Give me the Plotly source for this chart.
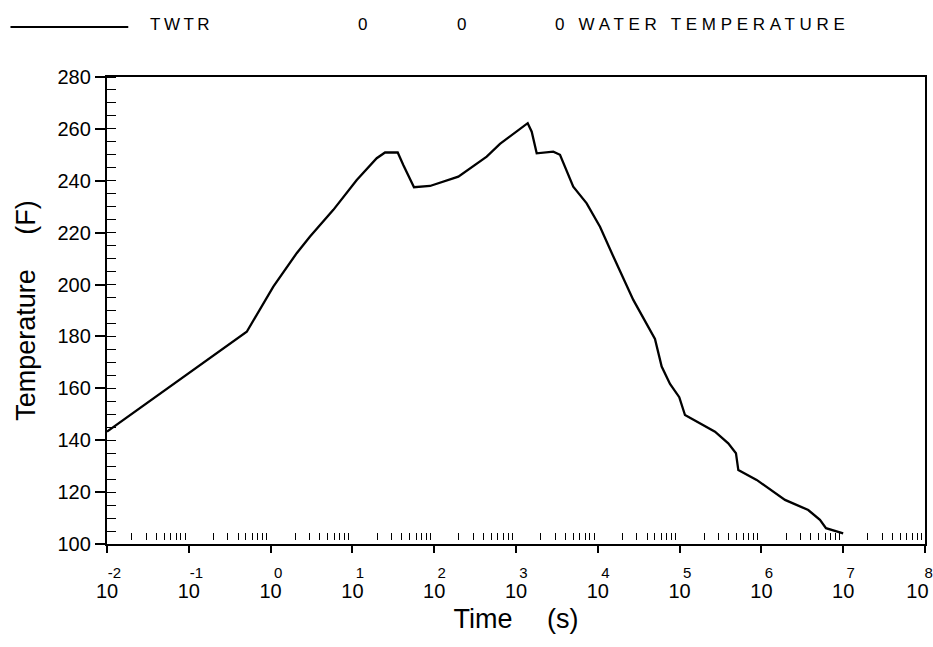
import plotly.graph_objects as go

# ---- data ----
time_s = [0.01, 0.511, 1.079, 2.084, 3.034, 5.848, 11.30, 14.96, 19.82, 25.06,
          35.81, 41.88, 56.62, 88.92, 197.2, 438.5, 636.8, 1390, 1556, 1791,
          2858, 3451, 5012, 7311, 10640, 15490, 27160, 50000, 60390, 76380,
          99080, 116400, 161800, 271000, 393600, 488700, 522400, 874980,
          1.945e6, 3.741e6, 5.2e6, 6.166e6, 1.0e7]
temp_f = [143.3, 181.8, 199.2, 212.1, 218.5, 228.8, 240.3, 244.4, 248.7, 250.9,
          250.9, 246.1, 237.5, 238.0, 241.6, 249.3, 254.2, 262.2, 258.9, 250.6,
          251.2, 250.0, 237.7, 231.3, 222.3, 210.8, 194.1, 179.0, 168.4, 161.7,
          156.6, 149.7, 147.1, 143.3, 138.8, 135.0, 128.5, 124.7,
          117.0, 113.1, 109.3, 106.1, 104.1]

x_exponents = list(range(-2, 9))
y_ticks = list(range(100, 281, 20))
minor_mult = [2, 3, 4, 5, 6, 7, 8, 9]

FONT = "Liberation Sans, Arial, sans-serif"
X_RANGE = [-2.0003, 8.0003]


def x_label(e, last=False):
    if last:  # right-most label is pulled left so it stays inside the page
        return f'\u2002{e}<br><span style="font-size:20px">10\u2002\u2005</span>'
    return f'\u2002\u2002{e}<br><span style="font-size:20px">10</span>'


x_tickvals = [10.0 ** e for e in x_exponents]
x_ticktext = [x_label(e, e == x_exponents[-1]) for e in x_exponents]
x_minor = [m * 10.0 ** e for e in x_exponents[:-1] for m in minor_mult]

fig = go.Figure()
fig.add_trace(go.Scatter(x=time_s, y=temp_f, mode="lines",
                         line=dict(color="black", width=2.3),
                         name="TWTR", showlegend=False, xaxis="x", yaxis="y"))
# invisible trace to carry the minor-tick overlay axis
fig.add_trace(go.Scatter(x=[time_s[0]], y=[temp_f[0]], mode="markers",
                         marker=dict(opacity=0), showlegend=False,
                         hoverinfo="skip", xaxis="x2", yaxis="y"))

fig.update_layout(
    width=933, height=647,
    margin=dict(l=107, r=8, t=77, b=103, autoexpand=False),
    paper_bgcolor="white", plot_bgcolor="white",
    font=dict(family=FONT, color="black", size=20),
    xaxis=dict(type="log", range=X_RANGE, tickvals=x_tickvals, ticktext=x_ticktext,
               ticks="outside", ticklen=7, tickwidth=2, tickcolor="black",
               showline=True, linewidth=2.3, linecolor="black", mirror=True,
               showgrid=False, zeroline=False, ticklabeloverflow="allow",
               automargin=False,
               tickfont=dict(size=15, family=FONT), ticklabelstandoff=7,
               title=dict(text="Time\u2003 (s)", font=dict(size=27, family=FONT), standoff=8)),
    xaxis2=dict(type="log", range=X_RANGE, overlaying="x", anchor="free", position=0.008,
                side="bottom", tickvals=x_minor, ticks="inside", ticklen=7, tickwidth=1,
                tickcolor="black", showticklabels=False, showline=False, showgrid=False,
                zeroline=False, automargin=False),
    yaxis=dict(range=[100, 280], tickvals=y_ticks,
               ticks="outside", ticklen=10, tickwidth=2, tickcolor="black",
               showline=True, linewidth=2.3, linecolor="black", mirror=True,
               showgrid=False, zeroline=False, automargin=False,
               minor=dict(dtick=5, ticks="inside", ticklen=9, tickwidth=1,
                          tickcolor="black", showgrid=False),
               tickfont=dict(size=20, family=FONT),
               title=dict(text="Temperature\u2003 (F)", font=dict(size=27, family=FONT), standoff=14)),
    showlegend=False,
)

# header legend line and labels
fig.add_shape(type="line", xref="paper", yref="paper",
              x0=-0.118, x1=0.026, y0=1.107, y1=1.107,
              line=dict(color="black", width=2))
hdr = [("TWTR", 0.050, 3.5), ("0", 0.305, 4.7), ("0", 0.426, 4.7),
       ("0 WATER TEMPERATURE", 0.545, 4.7)]
for txt, xp, ls in hdr:
    fig.add_annotation(text=f'<span style="letter-spacing:{ls}px">{txt}</span>',
                       xref="paper", yref="paper", x=xp, y=1.113,
                       xanchor="left", yanchor="middle", showarrow=False,
                       font=dict(size=17, family=FONT, color="black"))

fig.write_html("out.html")
